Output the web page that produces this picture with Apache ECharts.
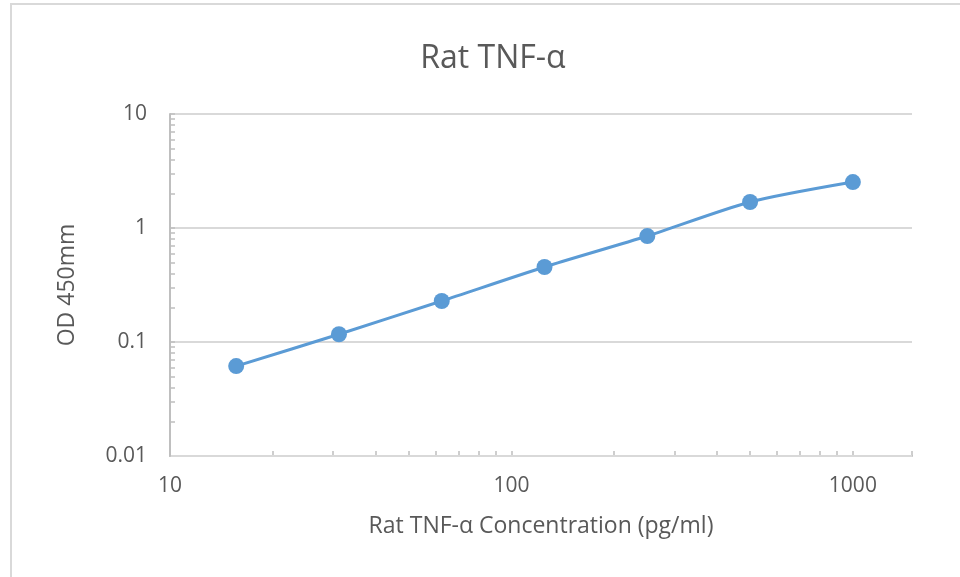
<!DOCTYPE html>
<html>
<head>
<meta charset="utf-8">
<script src="https://cdn.jsdelivr.net/npm/echarts@6/dist/echarts.min.js"></script>
<style>html,body{margin:0;padding:0;background:#fff;}#main{width:960px;height:577px;}</style>
</head>
<body>
<div id="main"></div>
<script>
const concentrations = [15.625, 31.25, 62.5, 125, 250, 500, 1000];
const odValues = [0.0615, 0.117, 0.229, 0.455, 0.85, 1.69, 2.53];
const xTickLabels = [10, 100, 1000];
const yTickLabels = [0.01, 0.1, 1, 10];
const xTicks = [20,30,40,50,60,70,80,90,100,200,300,400,500,600,700,800,900,1000,1490];
const yTicks = [0.02,0.03,0.04,0.05,0.06,0.07,0.08,0.09,0.1,0.2,0.3,0.4,0.5,0.6,0.7,0.8,0.9,1,2,3,4,5,6,7,8,9,10];
const yGrid = [0.01, 0.1, 1, 10];

const chart = echarts.init(document.getElementById('main'));
const textColor = '#595959';
const font = '"Open Sans", sans-serif';
chart.setOption({
  animation: false,
  backgroundColor: '#fff',
  title: {
    text: 'Rat TNF-α',
    left: 488, top: 38, textAlign: 'center',
    textStyle: {color: textColor, fontSize: 32, fontWeight: 'normal', fontFamily: font}
  },
  graphic: [{
    type: 'rect', shape: {x: 11, y: 4, width: 1200, height: 1200},
    style: {fill: 'none', stroke: '#d9d9d9', lineWidth: 2}, silent: true
  }],
  grid: {left: 170, top: 114, right: 48, bottom: 121},
  xAxis: {
    type: 'log', logBase: 10, min: 10, max: 1490,
    name: 'Rat TNF-α Concentration (pg/ml)', nameLocation: 'middle', nameGap: 59,
    nameTextStyle: {color: textColor, fontSize: 23, fontFamily: font},
    axisLine: {show: true, lineStyle: {color: '#bfbfbf', width: 2}},
    axisTick: {show: true, inside: true, length: 5, lineStyle: {color: '#bfbfbf', width: 1.5}, customValues: xTicks},
    axisLabel: {color: textColor, fontSize: 21, fontFamily: font, margin: 20, customValues: xTickLabels,
      formatter: v => String(v)},
    splitLine: {show: false},
    minorTick: {show: false}
  },
  yAxis: [{
    type: 'log', logBase: 10, min: 0.01, max: 10,
    name: 'OD 450mm', nameLocation: 'middle', nameGap: 91,
    nameTextStyle: {color: textColor, fontSize: 23, fontFamily: font},
    axisLine: {show: true, lineStyle: {color: '#bfbfbf', width: 2}},
    axisTick: {show: true, inside: true, length: 5, lineStyle: {color: '#bfbfbf', width: 1.5}, customValues: yTicks},
    axisLabel: {color: textColor, fontSize: 21, fontFamily: font, margin: 23, customValues: yTickLabels,
      formatter: v => String(v)},
    splitLine: {show: false},
    z: 3
  }, {
    type: 'log', logBase: 10, min: 0.01, max: 10, position: 'left',
    axisLine: {show: false},
    axisTick: {show: false, customValues: yGrid},
    axisLabel: {show: false},
    splitLine: {show: true, lineStyle: {color: '#d9d9d9', width: 2}},
    z: 1
  }],
  series: [{
    type: 'line',
    data: concentrations.map((c, i) => [c, odValues[i]]),
    smooth: 0.25,
    symbol: 'circle', symbolSize: 16,
    lineStyle: {color: '#5b9bd5', width: 3},
    itemStyle: {color: '#5b9bd5'},
    z: 5
  }]
});
</script>
</body>
</html>
